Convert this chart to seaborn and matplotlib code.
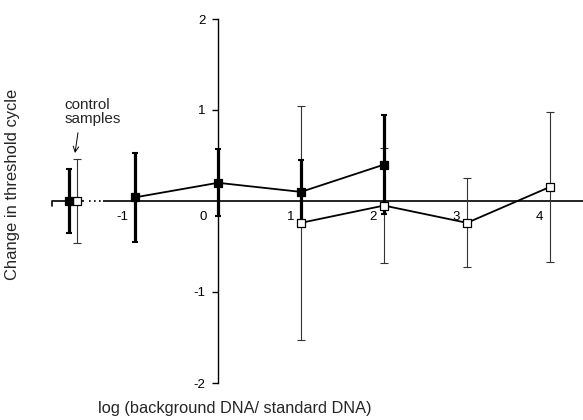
import matplotlib
matplotlib.use("Agg")
import matplotlib.pyplot as plt
import seaborn as sns
import numpy as np
import pandas as pd

# ---- data ----
# series with filled squares (thick error bars)
filled_x = [-1.795, -1, 0, 1, 2]
filled_y = [0.00, 0.04, 0.20, 0.10, 0.40]
filled_err = [0.35, 0.49, 0.37, 0.35, 0.54]
filled_is_control = [True, False, False, False, False]

# series with open squares (thin error bars)
open_x = [-1.70, 1, 2, 3, 4]
open_y = [0.00, -0.24, -0.05, -0.24, 0.155]
open_err = [0.46, 1.285, 0.63, 0.49, 0.825]
open_is_control = [True, False, False, False, False]

x_ticks = [-1, 0, 1, 2, 3, 4]
x_tick_labels = ["-1", "0", "1", "2", "3", "4"]
y_ticks = [-2, -1, 1, 2]
y_tick_labels = ["-2", "-1", "1", "2"]

x_label = "log (background DNA/ standard DNA)"
y_label = "Change in threshold cycle"
control_label = "control\nsamples"

sns.set_style("white")
plt.rcParams['font.family'] = ['Liberation Sans', 'DejaVu Sans']

fig = plt.figure(figsize=(5.83, 4.20), dpi=100)
ax = fig.add_axes([0, 0, 1, 1])
ax.set_facecolor("white")

# pixel mapping: x px = 218 + 83*x ; y px = 201 - 91*y
ax.set_xlim(-218 / 83, (583 - 218) / 83)
ax.set_ylim((201 - 420) / 91, 201 / 91)

df_f = pd.DataFrame({"x": filled_x, "y": filled_y, "err": filled_err, "ctrl": filled_is_control})
df_o = pd.DataFrame({"x": open_x, "y": open_y, "err": open_err, "ctrl": open_is_control})

# error bars
ax.errorbar(df_o["x"], df_o["y"], yerr=df_o["err"], fmt="none", ecolor="#333333",
            elinewidth=0.8, capsize=3, capthick=0.8, zorder=2)
ax.errorbar(df_f["x"], df_f["y"], yerr=df_f["err"], fmt="none", ecolor="black",
            elinewidth=2.3, capsize=2.5, capthick=1.5, zorder=3)

# connecting lines (not the control samples)
sns.lineplot(data=df_f[~df_f["ctrl"]], x="x", y="y", ax=ax, color="black",
             linewidth=1.3, sort=False, zorder=4)
sns.lineplot(data=df_o[~df_o["ctrl"]], x="x", y="y", ax=ax, color="black",
             linewidth=1.3, sort=False, zorder=4)

# markers
sns.scatterplot(data=df_o, x="x", y="y", ax=ax, marker="s", s=36, color="white",
                edgecolor="black", linewidth=0.9, zorder=6)
sns.scatterplot(data=df_f, x="x", y="y", ax=ax, marker="s", s=36, color="black",
                edgecolor="black", linewidth=0.9, zorder=7)

# ---- axes ----
for s in ["top", "right", "bottom"]:
    ax.spines[s].set_visible(False)
ax.spines["left"].set_position(("data", 0))
ax.spines["left"].set_bounds(-2, 2)
ax.spines["left"].set_linewidth(1.0)
ax.spines["left"].set_color("black")
ax.spines["left"].set_zorder(1)

ax.set_yticks(y_ticks)
ax.set_yticklabels(y_tick_labels)
ax.tick_params(axis="y", direction="out", length=4, width=1.0, pad=5,
               labelsize=9.5, left=True, colors="black")

# horizontal axis line at y = 0 with a break between controls and -1
ax.plot([-2.0, -1.62], [0, 0], color="black", lw=1.2, zorder=1, solid_capstyle="butt")
ax.plot([-1.55, -1.38], [0, 0], color="black", lw=1.2, zorder=1, linestyle=(0, (1, 2)))
ax.plot([-1.38, 4.5], [0, 0], color="black", lw=1.2, zorder=1, solid_capstyle="butt")
ax.plot([-2.0, -2.0], [0, -0.06], color="black", lw=1.2, zorder=1)

ax.set_xticks([])
for v, lab in zip(x_ticks, x_tick_labels):
    dx = -8 if v == 0 else -5
    ax.annotate(lab, xy=(v, 0), xytext=(dx, -7), textcoords="offset points",
                ha="right", va="top", fontsize=9.5, color="black")

ax.set_xlabel("")
ax.set_ylabel("")
fig.text(235 / 583, 1 - 408 / 420, x_label, ha="center", va="center", fontsize=11.8)
fig.text(13 / 583, 1 - 184 / 420, y_label, ha="center", va="center", rotation=90, fontsize=11.9)

# control samples annotation
ax.text(-1.845, 0.98, control_label, ha="left", va="center", fontsize=11, linespacing=1.05)
ax.annotate("", xy=(-1.723, 0.527), xytext=(-1.687, 0.75),
            arrowprops=dict(arrowstyle="->", color="black", lw=0.7,
                            shrinkA=0, shrinkB=0))

fig.savefig("out.png", dpi=100)
